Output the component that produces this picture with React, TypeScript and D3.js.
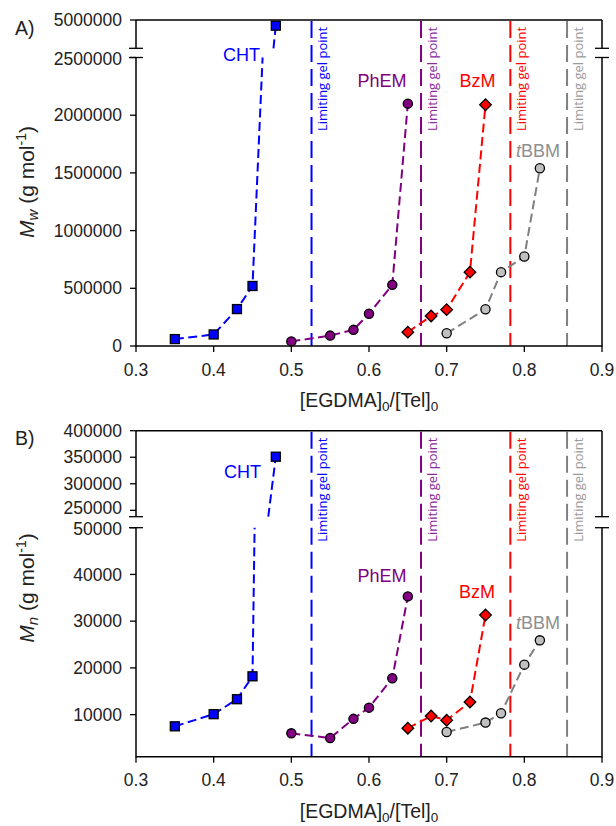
import React from "react";
import * as d3 from "d3";

// ---------- data ----------
const xTicks = [0.3, 0.4, 0.5, 0.6, 0.7, 0.8, 0.9];

const chtX = [0.35, 0.4, 0.43, 0.45, 0.48];
const chtMw = [60000, 100000, 320000, 520000, 4800000];
const chtMn = [7500, 10100, 13300, 18200, 351000];

const phemX = [0.5, 0.55, 0.58, 0.6, 0.63, 0.65];
const phemMw = [40000, 90000, 140000, 280000, 530000, 2100000];
const phemMn = [6000, 5000, 9100, 11500, 17800, 35300];

const bzmX = [0.65, 0.68, 0.7, 0.73, 0.75];
const bzmMw = [120000, 260000, 315000, 640000, 2090000];
const bzmMn = [7100, 9700, 8800, 12700, 31300];

const tbbmX = [0.7, 0.75, 0.77, 0.8, 0.82];
const tbbmMw = [110000, 318000, 640000, 775000, 1540000];
const tbbmMn = [6300, 8300, 10300, 20700, 25900];

const gelX = [0.526, 0.667, 0.782, 0.855];
const gelLabel = "Limiting gel point";

const mwTicksLower = [0, 500000, 1000000, 1500000, 2000000, 2500000];
const mwTicksUpper = [5000000];
const mnTicksLower = [10000, 20000, 30000, 40000, 50000];
const mnTicksUpper = [250000, 300000, 350000, 400000];

// x where the CHT line leaves the lower segment / enters the upper segment
const mwChtBreakX = [0.463, 0.477];
const mnChtBreakX = [0.4527, 0.4703];

// ---------- style ----------
const FONT = "'Liberation Sans', Arial, sans-serif";
const GEL_FONT = "'Open Sans', 'Noto Sans', sans-serif";
const BLUE = "#0000ff";
const PURPLE = "#800080";
const RED = "#ff0000";
const GRAY = "#808080";
const GRAY_FILL = "#c0c0c0";
const GRAY_TEXT = "#8f8f8f";

const X0 = 136;
const X1 = 602;

type SeriesDef = {
  name: string;
  xs: number[];
  vs: number[];
  color: string;
  fill: string;
  marker: "square" | "circle" | "diamond";
  breakX?: number[];
};

type PanelProps = {
  top: number;
  bottom: number;
  upperBottom: number;
  lowerTop: number;
  lowerDomain: [number, number];
  upperDomain: [number, number];
  ticksLower: number[];
  ticksUpper: number[];
  series: SeriesDef[];
  letter: string;
  letterY: number;
  yLabelSub: string;
  yLabelCenter: number;
  labels: { text: React.ReactNode; x: number; y: number; color: string; anchor: string }[];
};

function Marker({ kind, x, y, fill }: { kind: string; x: number; y: number; fill: string }) {
  const stroke = "#000";
  const sw = 1.3;
  if (kind === "square") {
    return <rect x={x - 4.5} y={y - 4.5} width={9} height={9} fill={fill} stroke={stroke} strokeWidth={sw} />;
  }
  if (kind === "diamond") {
    const r = 5.8;
    return (
      <path
        d={`M${x},${y - r}L${x + r},${y}L${x},${y + r}L${x - r},${y}Z`}
        fill={fill}
        stroke={stroke}
        strokeWidth={sw}
      />
    );
  }
  return <circle cx={x} cy={y} r={4.6} fill={fill} stroke={stroke} strokeWidth={sw} />;
}

function Panel(p: PanelProps) {
  const xs = d3.scaleLinear().domain([0.3, 0.9]).range([X0, X1]);
  const yl = d3.scaleLinear().domain(p.lowerDomain).range([p.bottom, p.lowerTop]);
  const yu = d3.scaleLinear().domain(p.upperDomain).range([p.upperBottom, p.top]);
  const lowerMax = p.lowerDomain[1];
  const y = (v: number) => (v <= lowerMax ? yl(v) : yu(v));
  const line = d3
    .line<[number, number]>()
    .x((d) => d[0])
    .y((d) => d[1]);

  const breakMark = (x: number, yy: number, key: string) => (
    <line key={key} x1={x - 7} x2={x + 7} y1={yy} y2={yy} stroke="#000" strokeWidth={1.3} />
  );

  const yTickItems = [
    ...p.ticksLower.map((t) => ({ t, yy: yl(t), nudge: t === lowerMax ? 1 : 0 })),
    ...p.ticksUpper.map((t, i) => ({ t, yy: yu(t), nudge: i === 0 && p.ticksUpper.length > 1 ? -2.5 : 0 })),
  ];

  return (
    <g>
      {/* gel point lines */}
      {gelX.map((g, i) => {
        const c = [BLUE, PURPLE, RED, GRAY][i];
        const tc = [BLUE, "#8a2a9a", RED, "#9a9a9a"][i];
        const gx = xs(g);
        return (
          <g key={"gel" + i}>
            <line x1={gx} x2={gx} y1={p.top + 1} y2={p.bottom} stroke={c} strokeWidth={2} strokeDasharray="17,7" />
            <text
              transform={`translate(${gx + 15.5},${p.top + 7}) rotate(-90)`}
              textAnchor="end"
              fontFamily={GEL_FONT}
              fontSize={12.5}
              fill={tc}
              textLength={104}
              lengthAdjust="spacingAndGlyphs"
            >
              {gelLabel}
            </text>
          </g>
        );
      })}

      {/* series lines */}
      {p.series.map((s) => {
        const pts = s.xs.map((x, i) => ({ x, v: s.vs[i] }));
        const lower = pts.filter((d) => d.v <= lowerMax).map((d) => [xs(d.x), yl(d.v)] as [number, number]);
        const upper = pts.filter((d) => d.v > lowerMax).map((d) => [xs(d.x), yu(d.v)] as [number, number]);
        const paths: string[] = [];
        if (upper.length && s.breakX) {
          lower.push([xs(s.breakX[0]), yl(lowerMax)]);
          upper.unshift([xs(s.breakX[1]), yu(p.upperDomain[0])]);
          paths.push(line(upper) || "");
        }
        paths.push(line(lower) || "");
        return paths.map((d, k) => (
          <path key={s.name + k} d={d} fill="none" stroke={s.color} strokeWidth={2} strokeDasharray="9,4.5" />
        ));
      })}

      {/* markers */}
      {p.series.map((s) =>
        s.xs.map((x, i) => <Marker key={s.name + "m" + i} kind={s.marker} x={xs(x)} y={y(s.vs[i])} fill={s.fill} />)
      )}

      {/* series labels */}
      {p.labels.map((l, i) => (
        <text key={"lab" + i} x={l.x} y={l.y} fill={l.color} fontFamily={FONT} fontSize={18} textAnchor={l.anchor}>
          {l.text}
        </text>
      ))}

      {/* frame */}
      <line x1={X0} x2={X1} y1={p.top} y2={p.top} stroke="#000" strokeWidth={1.5} />
      <line x1={X0} x2={X1} y1={p.bottom} y2={p.bottom} stroke="#000" strokeWidth={1.5} />
      {[X0, X1].map((x, i) => (
        <g key={"ax" + i}>
          <line x1={x} x2={x} y1={p.top} y2={p.upperBottom} stroke="#000" strokeWidth={1.5} />
          <line x1={x} x2={x} y1={p.lowerTop} y2={p.bottom + 0.75} stroke="#000" strokeWidth={1.5} />
          {breakMark(x, p.upperBottom, "b1")}
          {breakMark(x, p.lowerTop, "b2")}
        </g>
      ))}

      {/* x ticks */}
      {xTicks.map((t) => (
        <g key={"xt" + t}>
          <line x1={xs(t)} x2={xs(t)} y1={p.bottom} y2={p.bottom + 6} stroke="#000" strokeWidth={1.3} />
          <text x={xs(t)} y={p.bottom + 29.5} textAnchor="middle" fontFamily={FONT} fontSize={17.5} fill="#222">
            {d3.format(".1f")(t)}
          </text>
        </g>
      ))}

      {/* y ticks */}
      {yTickItems.map(({ t, yy, nudge }) => (
        <g key={"yt" + t}>
          <line x1={X0 - 6} x2={X0} y1={yy} y2={yy} stroke="#000" strokeWidth={1.3} />
          <text
            x={122}
            y={yy + nudge}
            dy="0.35em"
            textAnchor="end"
            fontFamily={FONT}
            fontSize={17.5}
            fill="#222"
          >
            {String(t)}
          </text>
        </g>
      ))}

      {/* panel letter */}
      <text x={15} y={p.letterY} fontFamily={FONT} fontSize={19.5} fill="#222">
        {p.letter}
      </text>

      {/* y label */}
      <text
        transform={`translate(34,${p.yLabelCenter}) rotate(-90)`}
        textAnchor="middle"
        fontFamily={FONT}
        fontSize={21}
        fill="#222"
      >
        <tspan fontStyle="italic">M</tspan>
        <tspan fontStyle="italic" fontSize={15} dy={4}>
          {p.yLabelSub}
        </tspan>
        <tspan dy={-4}> (g mol</tspan>
        <tspan fontSize={14} dy={-8}>
          -1
        </tspan>
        <tspan dy={8}>)</tspan>
      </text>

      {/* x label */}
      <text x={369} y={p.bottom + 61} textAnchor="middle" fontFamily={FONT} fontSize={19.5} fill="#222">
        [EGDMA]
        <tspan fontSize={13.5} dy={4}>
          0
        </tspan>
        <tspan dy={-4}>/[Tel]</tspan>
        <tspan fontSize={13.5} dy={4}>
          0
        </tspan>
      </text>
    </g>
  );
}

export default function App() {
  const mwSeries: SeriesDef[] = [
    { name: "CHT", xs: chtX, vs: chtMw, color: BLUE, fill: BLUE, marker: "square", breakX: mwChtBreakX },
    { name: "PhEM", xs: phemX, vs: phemMw, color: PURPLE, fill: PURPLE, marker: "circle" },
    { name: "BzM", xs: bzmX, vs: bzmMw, color: RED, fill: RED, marker: "diamond" },
    { name: "tBBM", xs: tbbmX, vs: tbbmMw, color: GRAY, fill: GRAY_FILL, marker: "circle" },
  ];
  const mnSeries: SeriesDef[] = [
    { name: "CHT", xs: chtX, vs: chtMn, color: BLUE, fill: BLUE, marker: "square", breakX: mnChtBreakX },
    { name: "PhEM", xs: phemX, vs: phemMn, color: PURPLE, fill: PURPLE, marker: "circle" },
    { name: "BzM", xs: bzmX, vs: bzmMn, color: RED, fill: RED, marker: "diamond" },
    { name: "tBBM", xs: tbbmX, vs: tbbmMn, color: GRAY, fill: GRAY_FILL, marker: "circle" },
  ];
  const tb = (
    <>
      <tspan fontStyle="italic">t</tspan>BBM
    </>
  );
  return (
    <svg width={616} height={826} style={{ position: "absolute", left: 0, top: 0, background: "#fff" }}>
      <rect width={616} height={826} fill="#fff" />
      <Panel
        top={20}
        bottom={346}
        upperBottom={48.3}
        lowerTop={57.5}
        lowerDomain={[0, 2500000]}
        upperDomain={[4000000, 5000000]}
        ticksLower={mwTicksLower}
        ticksUpper={mwTicksUpper}
        series={mwSeries}
        letter="A)"
        letterY={35}
        yLabelSub="w"
        yLabelCenter={182}
        labels={[
          { text: "CHT", x: 260, y: 61, color: BLUE, anchor: "end" },
          { text: "PhEM", x: 382, y: 87, color: PURPLE, anchor: "middle" },
          { text: "BzM", x: 477.5, y: 87, color: RED, anchor: "middle" },
          { text: tb, x: 538, y: 157, color: GRAY_TEXT, anchor: "middle" },
        ]}
      />
      <Panel
        top={430.7}
        bottom={756.7}
        upperBottom={516.7}
        lowerTop={527.7}
        lowerDomain={[1000, 50000]}
        upperDomain={[238000, 400000]}
        ticksLower={mnTicksLower}
        ticksUpper={mnTicksUpper}
        series={mnSeries}
        letter="B)"
        letterY={445}
        yLabelSub="n"
        yLabelCenter={588}
        labels={[
          { text: "CHT", x: 261, y: 478, color: BLUE, anchor: "end" },
          { text: "PhEM", x: 382, y: 581.5, color: PURPLE, anchor: "middle" },
          { text: "BzM", x: 477, y: 598, color: RED, anchor: "middle" },
          { text: tb, x: 538, y: 629, color: GRAY_TEXT, anchor: "middle" },
        ]}
      />
    </svg>
  );
}
